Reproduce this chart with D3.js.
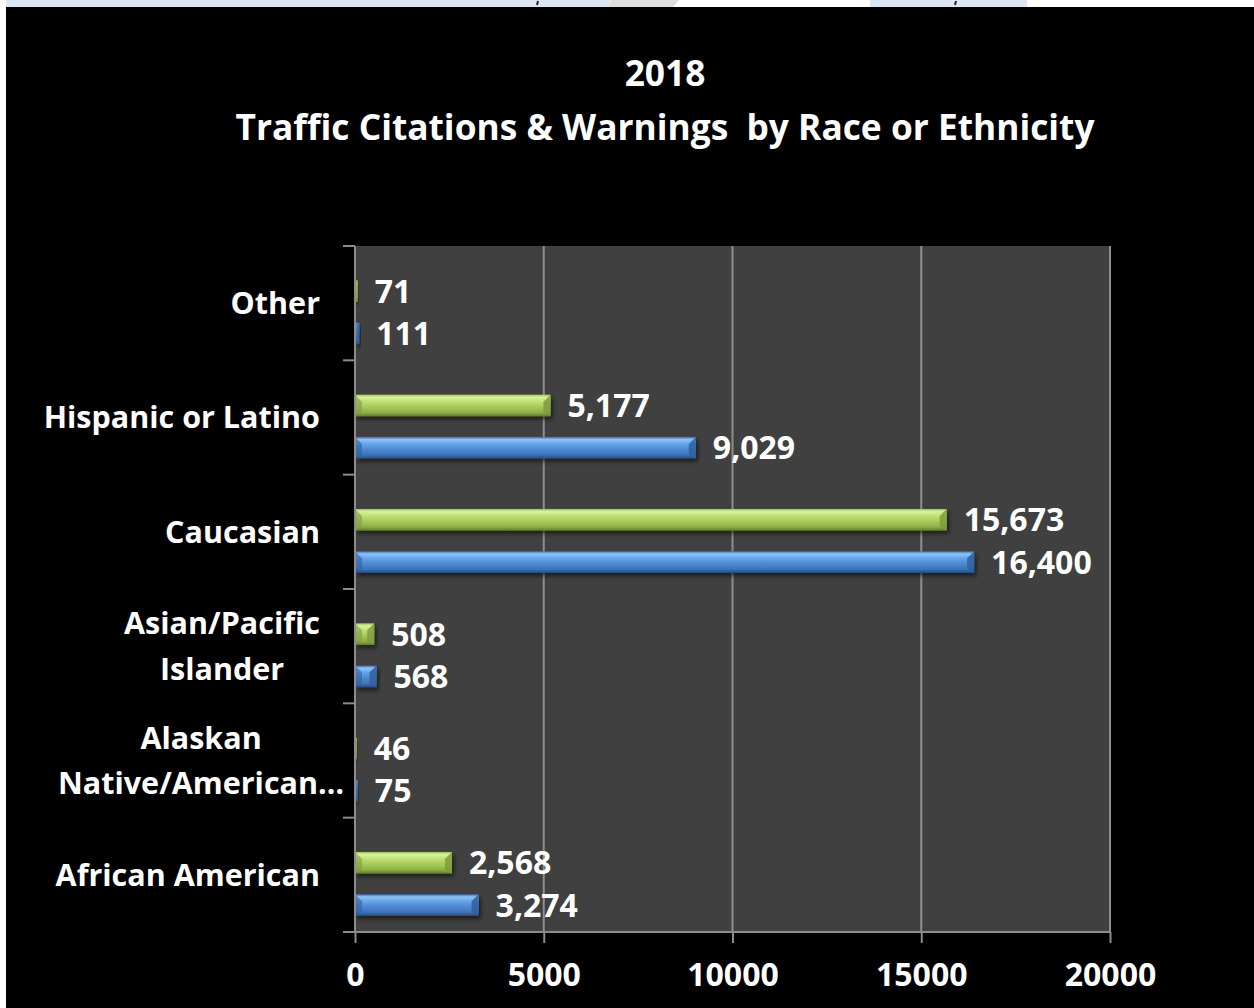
<!DOCTYPE html>
<html>
<head>
<meta charset="utf-8">
<script src="https://cdn.jsdelivr.net/npm/d3@7"></script>
<style>
  html, body { margin: 0; padding: 0; background: #ffffff; }
  svg { display: block; }
  text { font-family: "Open Sans", Lato, sans-serif; font-weight: 700; fill: #ffffff; white-space: pre; }
</style>
</head>
<body>
<svg id="chart" width="1254" height="1008"></svg>
<script>
// Categories, bottom to top
const categories = [
  "African American",
  "Alaskan Native/American…",
  "Asian/Pacific Islander",
  "Caucasian",
  "Hispanic or Latino",
  "Other"
];
// How each category label wraps on the axis
const categoryLines = [
  ["African American"],
  ["Alaskan", "Native/American…"],
  ["Asian/Pacific", "Islander"],
  ["Caucasian"],
  ["Hispanic or Latino"],
  ["Other"]
];
const citations = [3274, 75, 568, 16400, 9029, 111];
const warnings  = [2568, 46, 508, 15673, 5177, 71];
const xTicks = [0, 5000, 10000, 15000, 20000];
const titleLines = ["2018", "Traffic Citations & Warnings  by Race or Ethnicity"];

const W = 1254, H = 1008;
const plot = { left: 355, right: 1110, top: 246, bottom: 932 };

const svg = d3.select("#chart");
const defs = svg.append("defs");

// Bevelled bar fills
function barGradient(id, stops) {
  const g = defs.append("linearGradient").attr("id", id)
    .attr("x1", 0).attr("y1", 0).attr("x2", 0).attr("y2", 1);
  stops.forEach(([o, c]) => g.append("stop").attr("offset", o).attr("stop-color", c));
}
barGradient("gGreen", [[0, "#9fc257"], [0.12, "#d8f39a"], [0.3, "#c2e27a"], [0.55, "#a9cb5b"], [0.82, "#8fb04a"], [1, "#5f7a2a"]]);
barGradient("gBlue", [[0, "#3b6db0"], [0.12, "#8fc3f7"], [0.3, "#6aa7ea"], [0.55, "#4f8bd3"], [0.82, "#3f74bb"], [1, "#23497f"]]);
const shadow = defs.append("filter").attr("id", "shadow")
  .attr("x", "-20%").attr("y", "-40%").attr("width", "140%").attr("height", "200%");
shadow.append("feDropShadow").attr("dx", 2).attr("dy", 3).attr("stdDeviation", 2)
  .attr("flood-color", "#000").attr("flood-opacity", 0.55);

// Page strip above the chart panel
svg.append("rect").attr("x", 0).attr("y", 0).attr("width", W).attr("height", H).attr("fill", "#ffffff");
svg.append("rect").attr("x", 6).attr("y", 0).attr("width", 604).attr("height", 8).attr("fill", "#dce6f2");
svg.append("polygon").attr("points", "611,0 679,0 672,8 608,8").attr("fill", "#dedede");
svg.append("rect").attr("x", 870).attr("y", 0).attr("width", 157).attr("height", 8).attr("fill", "#dce6f2");
svg.append("path").attr("d", "M538,1 l-1,4 M956,1 l-1,4").attr("stroke", "#222").attr("stroke-width", 2);

// Chart panel
svg.append("rect").attr("x", 6).attr("y", 7).attr("width", W - 6).attr("height", H - 7).attr("fill", "#000000");

// Title
svg.append("g").selectAll("text").data(titleLines).join("text")
  .attr("x", 665).attr("y", (d, i) => 86 + i * 54)
  .attr("text-anchor", "middle").attr("font-size", 35.3)
  .text(d => d);

// Scales
const x = d3.scaleLinear().domain([0, 20000]).range([plot.left, plot.right]);
const y = d3.scaleBand().domain(categories.slice().reverse()).range([plot.top, plot.bottom]).padding(0);
const bw = y.bandwidth();
const barH = bw * 0.19;
const series = [
  { key: "warnings", values: warnings, fill: "url(#gGreen)", cap: "#7e9c3c", offset: 0.30 },
  { key: "citations", values: citations, fill: "url(#gBlue)", cap: "#2f5f9f", offset: 0.67 }
];

// Plot background
svg.append("rect").attr("x", plot.left).attr("y", plot.top)
  .attr("width", plot.right - plot.left).attr("height", plot.bottom - plot.top)
  .attr("fill", "#404040");

// Vertical gridlines
svg.append("g").selectAll("line").data(xTicks.slice(1)).join("line")
  .attr("x1", d => x(d)).attr("x2", d => x(d))
  .attr("y1", plot.top).attr("y2", plot.bottom)
  .attr("stroke", "#8e8e8e").attr("stroke-width", 2);

// Bars
series.forEach(s => {
  const g = svg.append("g").attr("class", s.key);
  const rows = categories.map((c, i) => ({ c, v: s.values[i] }));
  const item = g.selectAll("g").data(rows).join("g").attr("filter", "url(#shadow)");
  item.append("rect")
    .attr("x", x(0)).attr("y", d => y(d.c) + bw * s.offset)
    .attr("width", d => x(d.v) - x(0)).attr("height", barH)
    .attr("fill", s.fill);
  // chamfered right end
  item.append("polygon")
    .attr("points", d => {
      const x1 = x(d.v), top = y(d.c) + bw * s.offset, bot = top + barH;
      const bev = Math.min(7, (x1 - x(0)) / 2);
      return `${x1 - bev},${top + bev} ${x1},${top} ${x1},${bot} ${x1 - bev},${bot - bev * 0.6}`;
    })
    .attr("fill", s.cap).attr("opacity", 0.85);
  // chamfered left end
  item.append("polygon")
    .attr("points", d => {
      const x0 = x(0), top = y(d.c) + bw * s.offset, bot = top + barH;
      const bev = Math.min(7, (x(d.v) - x0) / 2);
      return `${x0},${top} ${x0 + bev},${top + bev} ${x0 + bev},${bot - bev * 0.6} ${x0},${bot}`;
    })
    .attr("fill", s.cap).attr("opacity", 0.6);
  // value labels
  g.selectAll("text").data(rows).join("text")
    .attr("x", d => x(d.v) + 17)
    .attr("y", d => y(d.c) + bw * s.offset + barH / 2)
    .attr("dy", "0.36em")
    .attr("font-size", 32)
    .text(d => d3.format(",")(d.v));
});

// Left axis with ticks at category boundaries
const axisColor = "#8c8c8c";
svg.append("line").attr("x1", plot.left).attr("x2", plot.left)
  .attr("y1", plot.top).attr("y2", plot.bottom)
  .attr("stroke", axisColor).attr("stroke-width", 2);
const bounds = categories.map(c => y(c)).concat([plot.bottom]);
svg.append("g").selectAll("line").data(bounds).join("line")
  .attr("x1", plot.left - 12).attr("x2", plot.left)
  .attr("y1", d => d).attr("y2", d => d)
  .attr("stroke", axisColor).attr("stroke-width", 2);

// Category labels: single lines end at the label edge, wrapped ones are centred
const labelEdge = 320, wrapLeft = 58;
const catG = svg.append("g");
categories.forEach((c, i) => {
  const lines = categoryLines[i];
  const lineH = 45.5;
  const cy = y(c) + bw / 2;
  const t = catG.append("text").attr("font-size", 30.5)
    .attr("text-anchor", lines.length > 1 ? "middle" : "end");
  lines.forEach((ln, j) => {
    t.append("tspan").attr("x", labelEdge)
      .attr("y", cy + (j - (lines.length - 1) / 2) * lineH)
      .attr("dy", "0.36em").text(ln);
  });
  if (lines.length > 1) {
    const wMax = d3.max(t.selectAll("tspan").nodes(), n => n.getComputedTextLength());
    const center = Math.max(labelEdge - wMax / 2, wrapLeft + wMax / 2);
    t.selectAll("tspan").attr("x", center);
  }
});

// Bottom axis
const xAxis = d3.axisBottom(x).tickValues(xTicks).tickSize(11).tickPadding(20)
  .tickFormat(d3.format("d"));
const ax = svg.append("g").attr("transform", `translate(0,${plot.bottom})`).call(xAxis);
ax.select(".domain").remove();
ax.selectAll(".tick line").attr("stroke", axisColor).attr("stroke-width", 2);
ax.selectAll(".tick text").attr("font-size", 32).attr("fill", "#ffffff")
  .attr("font-family", "'Open Sans', Lato, sans-serif").attr("font-weight", 700);
ax.append("line").attr("x1", plot.left - 12).attr("x2", plot.right)
  .attr("y1", 0).attr("y2", 0).attr("stroke", axisColor).attr("stroke-width", 2);
</script>
</body>
</html>
